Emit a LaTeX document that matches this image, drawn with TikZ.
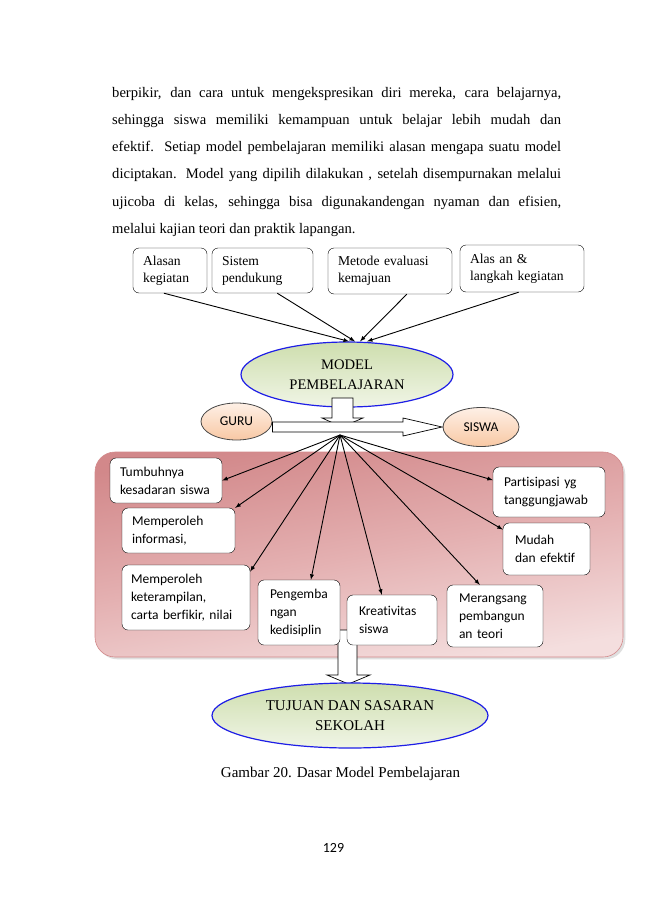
\documentclass[tikz,border=0pt]{standalone}
\usepackage{fontspec}
\setmainfont{Liberation Serif}
\newfontfamily\calibri[Ligatures=NoCommon]{Carlito}
\usepackage{tikz}
\usetikzlibrary{arrows,shadows,shapes.geometric,positioning,calc}
\definecolor{mygreen}{RGB}{206,222,174}
\definecolor{mygreenlight}{RGB}{240,245,230}
\definecolor{mypeach}{RGB}{248,200,164}
\definecolor{mypeachlight}{RGB}{254,240,230}
\definecolor{mygray}{RGB}{70,70,70}
\definecolor{mypink}{RGB}{210,136,138}
\definecolor{mypinkmid}{RGB}{228,176,177}
\definecolor{mypinklight}{RGB}{244,222,222}
\definecolor{myblue}{RGB}{30,30,230}
\tikzstyle{topbox}=[draw,fill=white,rounded corners=6pt,align=left,inner xsep=10pt,inner ysep=2pt,font=\fontsize{13.6}{17}\selectfont]
\tikzstyle{lowbox}=[draw,fill=white,rounded corners=6pt,align=left,inner xsep=10pt,inner ysep=2pt,font=\calibri\fontsize{13.5}{18}\selectfont]
\tikzstyle{bigoval}=[ellipse,draw=myblue,line width=1.2pt,top color=mygreen,bottom color=mygreenlight,align=center,inner sep=0pt]
\tikzstyle{smalloval}=[ellipse,draw=mygray,line width=0.8pt,top color=mypeachlight,bottom color=mypeach,inner sep=0pt,font=\calibri\fontsize{13.5}{15}\selectfont]
\tikzstyle{fanarrow}=[-latex,line width=0.9pt]
\tikzstyle{blockarrow}=[draw,fill=white,line width=0.7pt]
\tikzstyle{bodyline}=[anchor=base west,inner sep=0pt,font=\fontsize{14.6}{16}\selectfont]

\begin{document}
\begin{tikzpicture}[x=1pt,y=-1pt]
\useasboundingbox[fill=white] (0,0) rectangle (650,918);

% paragraph
\node [bodyline] (l1) at (112,97) {\makebox[449pt][s]{berpikir, dan cara untuk mengekspresikan diri mereka, cara belajarnya,}};
\node [bodyline] (l2) at (112,124.3) {\makebox[449pt][s]{sehingga siswa memiliki kemampuan untuk belajar lebih mudah dan}};
\node [bodyline] (l3) at (112,151.6) {\makebox[449pt][s]{efektif.\ \ Setiap model pembelajaran memiliki alasan mengapa suatu model}};
\node [bodyline] (l4) at (112,178.9) {\makebox[449pt][s]{diciptakan. Model yang dipilih dilakukan , setelah disempurnakan melalui}};
\node [bodyline] (l5) at (112,206.2) {\makebox[449pt][s]{ujicoba di kelas, sehingga bisa digunakandengan nyaman dan efisien,}};
\node [bodyline] (l6) at (112,233.5) {melalui kajian teori dan praktik lapangan.};

% top boxes
\node [topbox,text width=54pt,minimum height=45pt] (alasan) at (170,270.5) {Alasan\\kegiatan};
\node [topbox,text width=81pt,minimum height=45pt] (sistem) at (262.5,270.5) {Sistem\\pendukung};
\node [topbox,text width=104pt,minimum height=46pt] (metode) at (390,271) {Metode evaluasi\\kemajuan};
\node [topbox,text width=104pt,minimum height=47pt] (langkah) at (522,268.5) {Alas an \&\\langkah kegiatan};

\node [bigoval,minimum width=212pt,minimum height=65pt,font=\fontsize{14.6}{19.5}\selectfont] (model) at (347,374.5) {MODEL\\PEMBELAJARAN};

\draw [fanarrow] (alasan.255) -- ([xshift=2pt]model.north);
\draw [fanarrow] (sistem.303) -- ([xshift=8pt]model.north);
\draw [fanarrow] (metode.306) -- ([xshift=13pt]model.north);
\draw [fanarrow] (langkah.262) -- ([xshift=20pt]model.north);

\node [smalloval,minimum width=71pt,minimum height=37pt] (guru) at (236.5,421.5) {GURU};
\node [smalloval,minimum width=76pt,minimum height=39pt] (siswa) at (481,427) {SISWA};

\draw [blockarrow] (332,398) -- (332,418) -- (322,418) -- (342,427) -- (363,418) -- (353,418) -- (353,398) -- cycle;
\draw [blockarrow] (guru.east |- 0,422) -- (403,422) -- (403,418) -- (442,427) -- (403,436) -- (403,432) -- (guru.east |- 0,432) -- cycle;

% result area
\path [rounded corners=20pt,draw=mypink,line width=0.6pt,top color=mypink,bottom color=mypinklight,middle color=mypinkmid,shading angle=10,drop shadow={opacity=0.25}] (95,452) rectangle (623,657);
\draw [blockarrow] (338,630) -- (338,675) -- (327,675) -- (348.5,684) -- (370,675) -- (357,675) -- (357,630) -- cycle;

\node [lowbox,text width=92pt,minimum height=45pt] (tumbuh) at (166,480.5) {Tumbuhnya\\kesadaran siswa};
\node [lowbox,text width=93pt,minimum height=45pt] (informasi) at (178.5,530.5) {Memperoleh\\informasi,};
\node [lowbox,text width=110pt,inner xsep=9pt,minimum height=65pt] (terampil) at (186,597.5) {Memperoleh\\keterampilan,\\carta berfikir, nilai};
\node [lowbox,text width=58pt,inner xsep=12pt,minimum height=65pt] (kembang) at (299,612.5) {Pengemba\\ngan\\kedisiplin};
\node [lowbox,text width=66pt,inner xsep=12pt,minimum height=50pt] (kreatif) at (392,620) {Kreativitas\\siswa};
\node [lowbox,text width=72pt,inner xsep=12pt,minimum height=62pt] (rangsang) at (495,616) {Merangsang\\pembangun\\an teori};
\node [lowbox,text width=90pt,inner xsep=11pt,minimum height=50pt] (partisipasi) at (549,492) {Partisipasi yg\\tanggungjawab};
\node [lowbox,text width=63pt,inner xsep=12pt,minimum height=52pt] (mudah) at (546.5,549) {Mudah\\dan efektif};

\coordinate (fan) at (340,435);
\draw [fanarrow] (fan) -- (tumbuh.east);
\draw [fanarrow] (fan) -- (informasi.north east);
\draw [fanarrow] (fan) -- (terampil.22);
\draw [fanarrow] (fan) -- (kembang.70);
\draw [fanarrow] (fan) -- (kreatif.112);
\draw [fanarrow] (fan) -- (rangsang.116);
\draw [fanarrow] (fan) -- (mudah.156);
\draw [fanarrow] (fan) -- (partisipasi.168);

\node [bigoval,minimum width=276pt,minimum height=65pt,font=\fontsize{15}{20}\selectfont] (tujuan) at (350,715.5) {TUJUAN DAN SASARAN\\SEKOLAH};

\node [anchor=base,font=\fontsize{15}{16}\selectfont] (caption) at (340.5,777) {Gambar 20. Dasar Model Pembelajaran};
\node [anchor=base,font=\calibri\fontsize{14}{15}\selectfont] (page) at (333.5,852.5) {129};
\end{tikzpicture}
\end{document}
